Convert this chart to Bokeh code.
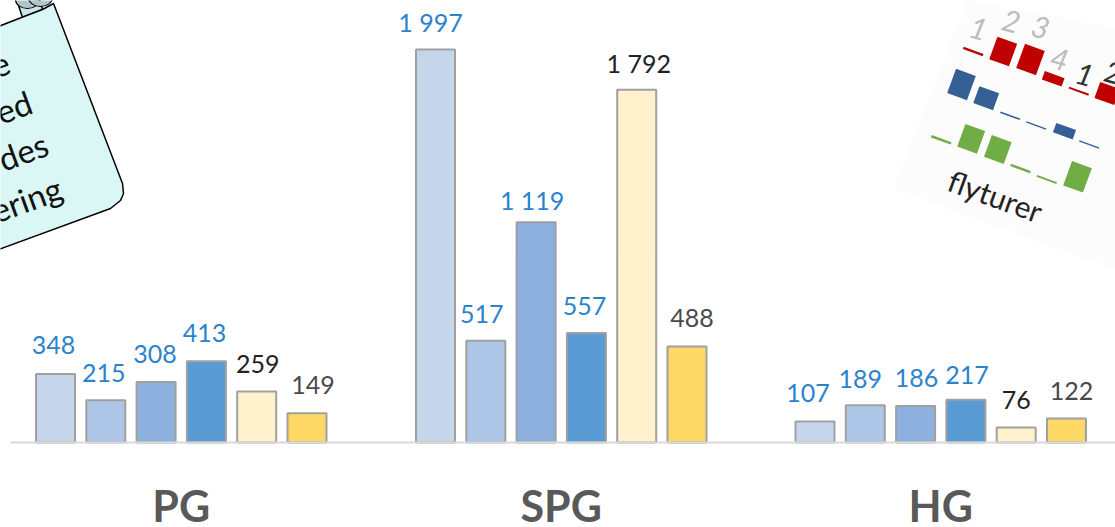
from bokeh.plotting import figure
from bokeh.models import Range1d, ColumnDataSource, FixedTicker
from bokeh.core.properties import value
from bokeh.embed import file_html
from bokeh.resources import INLINE

# ---- data ----
groups = ["PG", "SPG", "HG"]
pg = [348, 215, 308, 413, 259, 149]
spg = [1997, 517, 1119, 557, 1792, 488]
hg = [107, 189, 186, 217, 76, 122]
bar_colors = ["#C5D5EA", "#ADC5E7", "#8CB1DE", "#5B9BD5", "#FFF2CC", "#FFD966"]
label_colors = ["#2A83CC", "#2A83CC", "#2A83CC", "#2A83CC", "#222222", "#4A4A4A"]
note_lines = ["e", "ed", "des", "ering"]
mini_digits = ["1", "2", "3", "4", "1", "2"]
mini_title = "flyturer"

# ---- layout (reference pixels) ----
W, H = 1115, 527
LEFT, TOP, BOTTOM = 0, 0, 527
BASE = 442
PX_PER_UNIT = 393 / 1997
origins = [55, 435, 814.5]
STEP = 50.3
BAR_W = 39
label_dx = [[-2, -2, -1, -2, 1, 6], [-5, -4, -4, -2, 2, 5], [-7, -5, 1, 1, 0, 5]]
label_dy = [[-29, -27, -28, -28, -28, -28], [-28, -27, -22, -27, -27, -28], [-28, -26, -28, -25, -28, -27]]

p = figure(width=W, height=H, output_backend="svg", toolbar_location=None,
           x_range=Range1d(LEFT, LEFT + W),
           y_range=Range1d(-(BOTTOM - BASE) / PX_PER_UNIT, (BASE - TOP) / PX_PER_UNIT),
           min_border=0, min_border_left=0, min_border_right=0, min_border_top=0, min_border_bottom=0)
p.extra_y_ranges = {"px": Range1d(BOTTOM, TOP)}
p.outline_line_color = None
p.grid.visible = False
p.yaxis.visible = False
p.background_fill_color = "white"

# ---- axis inside the frame at value 0 ----
ax = p.xaxis[0]
ticks = [o + 2.5 * STEP for o in origins]
ax.ticker = FixedTicker(ticks=ticks)
ax.major_label_overrides = {t: g for t, g in zip(ticks, groups)}
ax.fixed_location = 0
ax.bounds = (10, LEFT + W)
ax.axis_line_color = "#D9D9D9"
ax.axis_line_width = 2
ax.major_tick_line_color = None
ax.minor_tick_line_color = None
ax.major_label_standoff = 31
ax.major_label_text_font = "Lato"
ax.major_label_text_font_style = "bold"
ax.major_label_text_font_size = "43px"
ax.major_label_text_color = "#595959"

# ---- bars and value labels ----
xs, tops, fills, labels, lcols, dxs, dys = [], [], [], [], [], [], []
for gi, series in enumerate([pg, spg, hg]):
    for i, v in enumerate(series):
        xs.append(origins[gi] + i * STEP)
        tops.append(v)
        fills.append(bar_colors[i])
        labels.append(f"{v:,}".replace(",", " "))
        lcols.append(label_colors[i])
        dxs.append(label_dx[gi][i])
        dys.append(label_dy[gi][i])
src = ColumnDataSource(dict(x=xs, top=tops, fill=fills, label=labels, lcol=lcols, dx=dxs, dy=dys))
p.vbar(x="x", top="top", bottom=0, width=BAR_W, source=src, fill_color="fill",
       line_color="#A0A0A0", line_width=2)
p.text(x="x", y="top", text="label", source=src, text_color="lcol", x_offset="dx", y_offset="dy",
       text_font=value("Lato"), text_font_size="25px", text_align="center", text_baseline="middle")

# ---- note card, top left ----
note_x = [-10, 21, 42, 53, 122, 123, 120, 110, -10]
note_y = [29, 17, 9, 3, 183, 193, 200, 208, 252]
p.patch([18, 22, 42, 40], [5, 17, 9, 0], y_range_name="px", fill_color="#CBE6E6", line_color="black", line_width=1.5)
p.patch(note_x, note_y, y_range_name="px", fill_color="#DAF6F5", line_color="black", line_width=1.5)
p.ellipse([27, 40], [-1, -3], width=24, height=18, y_range_name="px", fill_color="#B0C6C8", line_color="black", line_width=1.2)
p.text([8, 30, 46, 60], [61, 100, 142, 186], text=note_lines, y_range_name="px", angle=20, angle_units="deg",
       text_font=value("Lato"), text_font_size="33px", text_color="#111111",
       text_align="right", text_baseline="middle")

# ---- tilted mini chart, top right ----
p.patch([967, 893, 1130, 1130], [0, 188, 275, 30], y_range_name="px", fill_color="#FCFCFC", line_color=None)
row_red = dict(x=[972.7, 1002.7, 1030, 1052.7, 1078.3, 1106.7], y=[51, 51, 59, 78.3, 90.7, 93],
               h=[2.5, 24, 26, 9, 2, 17], c="#C00000")
row_blue = dict(x=[961, 985.7, 1009.7, 1035.7, 1064, 1088.7], y=[84, 97.7, 115.3, 125, 130.7, 144],
                h=[26, 18, 1.5, 1.5, 10, 1.5], c="#335F95")
row_green = dict(x=[940.7, 970.7, 997.3, 1020, 1046.3, 1077], y=[139.3, 138.3, 149, 168, 179, 176.3],
                 h=[2.5, 24, 23, 2.5, 2, 26], c="#70AD47")
for r in (row_red, row_blue, row_green):
    p.rect(r["x"], r["y"], width=21, height=r["h"], y_range_name="px", angle=-20, angle_units="deg",
           fill_color=r["c"], line_color=None)
p.text([978, 1010.7, 1040, 1059, 1084.3, 1113], [28, 20.7, 26.7, 58.3, 74, 72], text=mini_digits,
       y_range_name="px", angle=-15, angle_units="deg",
       text_color=["#BDBDBD"] * 4 + ["#333333"] * 2,
       text_font=value("Lato"), text_font_style="italic", text_font_size="30px",
       text_align="center", text_baseline="middle")
p.text([995], [195], text=[mini_title], y_range_name="px", angle=-20, angle_units="deg",
       text_color="#222222", text_font=value("Lato"), text_font_size="30px",
       text_align="center", text_baseline="middle")

open("out.html", "w").write(file_html(p, INLINE))
